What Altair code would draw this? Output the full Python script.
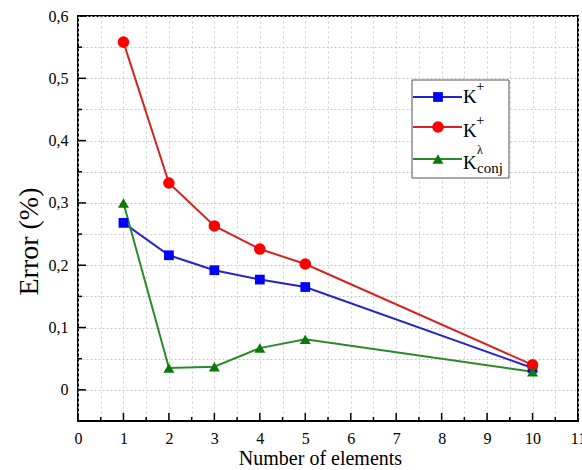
import altair as alt
import pandas as pd

# ---- data ----
x_vals = [1, 2, 3, 4, 5, 10]
k_plus = [0.268, 0.216, 0.192, 0.177, 0.165, 0.035]
k_plus_lambda = [0.558, 0.332, 0.263, 0.226, 0.202, 0.040]
k_conj = [0.300, 0.035, 0.037, 0.067, 0.081, 0.029]

series_names = ["K+", "K+λ", "Kconj"]
legend_main = ["K", "K", "K"]
legend_sup = ["+", "+", ""]
legend_sub = ["", "λ", "conj"]

y_major = [0, 0.1, 0.2, 0.3, 0.4, 0.5, 0.6]
y_minor = [0.05, 0.15, 0.25, 0.35, 0.45, 0.55]
x_major = [0, 1, 2, 3, 4, 5, 6, 7, 8, 9, 10, 11]
x_minor = [0.5, 1.5, 2.5, 3.5, 4.5, 5.5, 6.5, 7.5, 8.5, 9.5, 10.5]

# ---- styles ----
FONT = "Liberation Serif, Times New Roman, serif"
line_colors = ["#2323c8", "#d22424", "#2a8a2a"]
marker_colors = ["#0000ff", "#ff0000", "#0a7a0a"]
marker_shapes = ["square", "circle", "triangle-up"]
marker_sizes = [95, 135, 120]

W, H = 500, 405
xscale = alt.Scale(domain=[0, 11], nice=False, zero=False)
yscale = alt.Scale(domain=[-0.05, 0.6], nice=False, zero=False)

all_series = [k_plus, k_plus_lambda, k_conj]
rows = []
for name, vals in zip(series_names, all_series):
    for xv, yv in zip(x_vals, vals):
        rows.append({"n": xv, "err": yv, "series": name})
df = pd.DataFrame(rows)

y_axis_vals = sorted(y_major + y_minor)
x_axis_vals = sorted(x_major + x_minor)

x_axis = alt.Axis(values=x_axis_vals, title="Number of elements",
                  labelExpr="datum.value % 1 == 0 ? format(datum.value, 'd') : ''",
                  ticks=False, domain=False, grid=True,
                  gridColor="#cfcfcf", gridDash=[2, 3], gridWidth=1,
                  labelFont=FONT, labelFontSize=16, labelColor="black",
                  labelPadding=9, labelFlush=False, labelOverlap=False,
                  titleFont=FONT, titleFontSize=20, titleFontWeight="normal",
                  titleColor="black", titleX=242, titleY=43,
                  titleBaseline="alphabetic", titleAlign="center")
y_axis = alt.Axis(values=y_axis_vals, title="Error (%)",
                  labelExpr="abs(datum.value*10 - round(datum.value*10)) < 0.001 ? (datum.value == 0 ? '0' : replace(format(datum.value, '.1f'), '.', ',')) : ''",
                  ticks=False, domain=False, grid=True,
                  gridColor="#c8c8c8", gridDash=[2, 2], gridWidth=1,
                  labelFont=FONT, labelFontSize=16, labelColor="black",
                  labelPadding=10, labelOverlap=False,
                  titleFont=FONT, titleFontSize=28, titleFontWeight="normal",
                  titleColor="black", titleX=-41, titleY=225,
                  titleAngle=-90, titleBaseline="alphabetic",
                  titleAlign="center")


def X(field):
    return alt.X(field, type="quantitative", scale=xscale, axis=x_axis, title="Number of elements")


def Y(field):
    return alt.Y(field, type="quantitative", scale=yscale, axis=y_axis, title="Error (%)")


layers = []

# inward tick marks
layers.append(alt.Chart(pd.DataFrame({"v": y_major})).mark_rule(color="black", strokeWidth=1.5).encode(
    y=Y("v"), x=alt.value(0), x2=alt.value(8)))
layers.append(alt.Chart(pd.DataFrame({"v": y_minor})).mark_rule(color="black", strokeWidth=1.5).encode(
    y=Y("v"), x=alt.value(0), x2=alt.value(4)))
layers.append(alt.Chart(pd.DataFrame({"v": x_major})).mark_rule(color="black", strokeWidth=1.5).encode(
    x=X("v"), y=alt.value(H), y2=alt.value(H - 8)))
layers.append(alt.Chart(pd.DataFrame({"v": x_minor})).mark_rule(color="black", strokeWidth=1.5).encode(
    x=X("v"), y=alt.value(H), y2=alt.value(H - 4)))

# series lines and markers
for i, name in enumerate(series_names):
    sub = df[df["series"] == name]
    layers.append(alt.Chart(sub).mark_line(color=line_colors[i], strokeWidth=2).encode(
        x=X("n"), y=Y("err")))
for i, name in enumerate(series_names):
    sub = df[df["series"] == name]
    layers.append(alt.Chart(sub).mark_point(filled=True, opacity=1, shape=marker_shapes[i],
                                            size=marker_sizes[i], color=marker_colors[i]).encode(
        x=X("n"), y=Y("err")))

# custom legend (rich text with super/subscripts)
one = alt.Data(values=[{"a": 1}])
layers.append(alt.Chart(one).mark_rect(fill="white", stroke="#555555", strokeWidth=1).encode(
    x=alt.value(334), x2=alt.value(431), y=alt.value(64), y2=alt.value(162)))

row_line_y = [81, 111, 143]
row_k_base = [87, 121, 153]
row_sup_base = [75, 109, 0]
row_sub_base = [0, 138, 157]
for i in range(3):
    layers.append(alt.Chart(one).mark_rule(color=line_colors[i], strokeWidth=2).encode(
        x=alt.value(335), x2=alt.value(384), y=alt.value(row_line_y[i])))
    layers.append(alt.Chart(one).mark_point(filled=True, opacity=1, shape=marker_shapes[i],
                                            size=marker_sizes[i], color=marker_colors[i]).encode(
        x=alt.value(360), y=alt.value(row_line_y[i])))
    layers.append(alt.Chart(one).mark_text(font=FONT, fontSize=19, align="left",
                                           baseline="alphabetic", color="black").encode(
        x=alt.value(385), y=alt.value(row_k_base[i]), text=alt.value(legend_main[i])))
    if legend_sup[i]:
        layers.append(alt.Chart(one).mark_text(font=FONT, fontSize=15, align="left",
                                               baseline="alphabetic", color="black").encode(
            x=alt.value(398), y=alt.value(row_sup_base[i]), text=alt.value(legend_sup[i])))
    if legend_sub[i]:
        layers.append(alt.Chart(one).mark_text(font=FONT, fontSize=15 if i == 2 else 12,
                                               align="left", baseline="alphabetic",
                                               color="black").encode(
            x=alt.value(399), y=alt.value(row_sub_base[i]), text=alt.value(legend_sub[i])))

chart = alt.layer(*layers).properties(
    width=W, height=H,
    autosize=alt.AutoSizeParams(type="none"),
    padding={"left": 78, "top": 16, "right": 4, "bottom": 49},
    background="white",
).configure_view(stroke="black", strokeWidth=2)

chart.save("out.html", embed_options={"renderer": "svg", "actions": False})
